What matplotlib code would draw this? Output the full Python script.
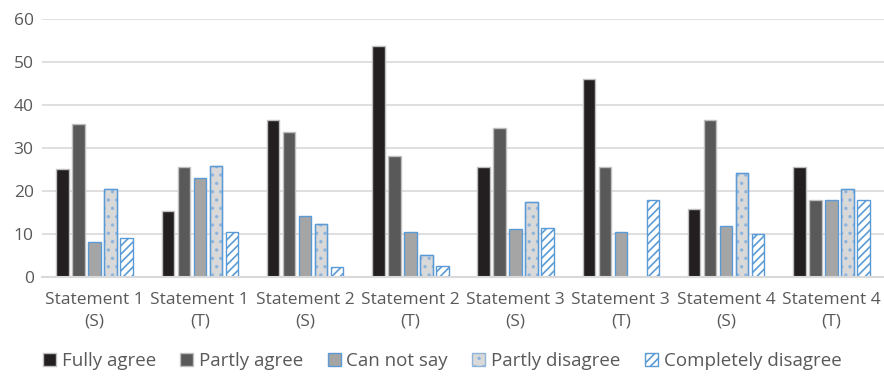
import numpy as np
import matplotlib
matplotlib.use("Agg")
import matplotlib.pyplot as plt

plt.rcParams["font.family"] = ["Open Sans", "DejaVu Sans"]
plt.rcParams["hatch.linewidth"] = 1.2

categories = ["Statement 1\n(S)", "Statement 1\n(T)", "Statement 2\n(S)", "Statement 2\n(T)",
              "Statement 3\n(S)", "Statement 3\n(T)", "Statement 4\n(S)", "Statement 4\n(T)"]
series_names = ["Fully agree", "Partly agree", "Can not say", "Partly disagree", "Completely disagree"]

fully_agree = [25.1, 15.3, 36.5, 53.8, 25.5, 46.1, 15.9, 25.5]
partly_agree = [35.5, 25.5, 33.8, 28.2, 34.7, 25.5, 36.5, 17.9]
can_not_say = [8.1, 23.1, 14.2, 10.4, 11.1, 10.4, 11.9, 18.0]
partly_disagree = [20.4, 25.7, 12.3, 5.1, 17.5, 0.0, 24.2, 20.5]
completely_disagree = [9.1, 10.4, 2.4, 2.6, 11.5, 18.0, 10.1, 18.0]

values = [fully_agree, partly_agree, can_not_say, partly_disagree, completely_disagree]
styles = [
    dict(facecolor="#231F20", edgecolor="#BFBFBF", hatch=None),
    dict(facecolor="#595959", edgecolor="#BFBFBF", hatch=None),
    dict(facecolor="#A5A5A5", edgecolor="#5B9BD5", hatch=None),
    dict(facecolor="#D9D9D9", edgecolor="#8FB4DC", hatch=".."),
    dict(facecolor="white", edgecolor="#5B9BD5", hatch="////"),
]

fig = plt.figure(figsize=(8.84, 3.83), dpi=100)
ax = fig.add_axes([0.0475, 0.2768, 0.9525, 0.6735])

x = np.arange(len(categories))
step = 0.152
width = 0.12
for i, (vals, name, st) in enumerate(zip(values, series_names, styles)):
    ax.bar(x + (i - 2) * step, vals, width, label=name, linewidth=1.0, zorder=3, **st)
# stronger blue outline over the dotted bars
ax.bar(x + step, partly_disagree, width, facecolor="none", edgecolor="#5B9BD5",
       linewidth=1.0, zorder=4)

ax.set_xlim(-0.5, len(categories) - 0.5)
ax.set_ylim(0, 60)
ax.set_yticks(range(0, 61, 10))
ax.set_xticks(x)
ax.set_xticklabels(categories, fontsize=12.5, color="#595959", linespacing=1.45)
ax.tick_params(axis="y", labelsize=12.5, labelcolor="#595959", length=0, pad=6)
ax.tick_params(axis="x", length=0, pad=11)
ax.yaxis.grid(True, color="#D9D9D9", linewidth=1.2, zorder=0)
for s in ["top", "right", "left"]:
    ax.spines[s].set_visible(False)
ax.spines["bottom"].set_color("#D9D9D9")
ax.spines["bottom"].set_linewidth(1.5)
ax.spines["bottom"].set_zorder(5)

leg = fig.legend(loc="center", bbox_to_anchor=(0.5, 0.058), ncol=5, frameon=False,
                 fontsize=13.5, handlelength=0.7, handleheight=0.7, handletextpad=0.3,
                 columnspacing=1.3)
for t in leg.get_texts():
    t.set_color("#595959")

fig.savefig("out.png", dpi=100)
